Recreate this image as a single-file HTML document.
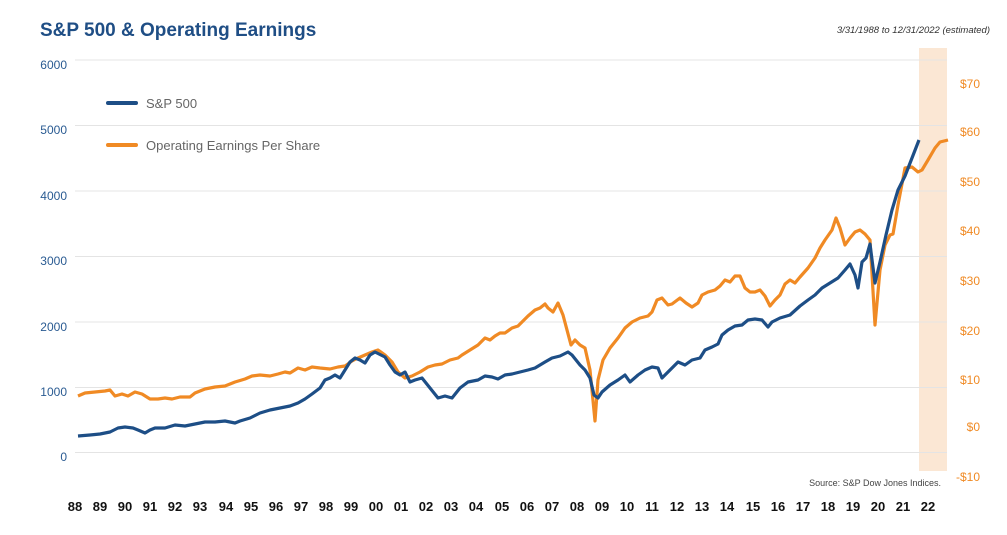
<!DOCTYPE html>
<html><head><meta charset="utf-8"><style>
html,body{margin:0;padding:0;background:#fff;}
svg{display:block;font-family:"Liberation Sans",sans-serif;}
</style></head><body>
<svg width="1007" height="535" viewBox="0 0 1007 535" xmlns="http://www.w3.org/2000/svg">
<rect width="1007" height="535" fill="#fff"/>
<text x="40" y="36" font-size="19" font-weight="bold" fill="#1f4e85">S&amp;P 500 &amp; Operating Earnings</text>
<text x="990" y="33" font-size="9.5" font-style="italic" fill="#333" text-anchor="end">3/31/1988 to 12/31/2022 (estimated)</text>
<rect x="919" y="48" width="28" height="423" fill="#fbe7d4"/>
<g stroke="#e4e4e4" stroke-width="1">
<line x1="75" y1="60" x2="947" y2="60"/><line x1="75" y1="125.5" x2="947" y2="125.5"/>
<line x1="75" y1="191" x2="947" y2="191"/><line x1="75" y1="256.5" x2="947" y2="256.5"/>
<line x1="75" y1="322" x2="947" y2="322"/><line x1="75" y1="387.5" x2="947" y2="387.5"/>
<line x1="75" y1="452.5" x2="947" y2="452.5"/>
</g>
<g font-size="12" fill="#2a5b92" text-anchor="end">
<text x="67" y="69">6000</text><text x="67" y="134">5000</text><text x="67" y="200">4000</text>
<text x="67" y="265">3000</text><text x="67" y="331">2000</text><text x="67" y="396">1000</text><text x="67" y="461">0</text>
</g>
<g font-size="12" fill="#f08a24" text-anchor="end">
<text x="980" y="88">$70</text><text x="980" y="136">$60</text><text x="980" y="186">$50</text>
<text x="980" y="235">$40</text><text x="980" y="285">$30</text><text x="980" y="335">$20</text>
<text x="980" y="384">$10</text><text x="980" y="431">$0</text><text x="980" y="481">-$10</text>
</g>
<text x="941" y="486" font-size="9" fill="#444" text-anchor="end">Source: S&amp;P Dow Jones Indices.</text>
<g font-size="13" font-weight="bold" fill="#111" text-anchor="middle">
<text x="75" y="511">88</text><text x="100" y="511">89</text><text x="125" y="511">90</text><text x="150" y="511">91</text><text x="175" y="511">92</text><text x="200" y="511">93</text><text x="226" y="511">94</text><text x="251" y="511">95</text><text x="276" y="511">96</text><text x="301" y="511">97</text><text x="326" y="511">98</text><text x="351" y="511">99</text><text x="376" y="511">00</text><text x="401" y="511">01</text><text x="426" y="511">02</text><text x="451" y="511">03</text><text x="476" y="511">04</text><text x="502" y="511">05</text><text x="527" y="511">06</text><text x="552" y="511">07</text><text x="577" y="511">08</text><text x="602" y="511">09</text><text x="627" y="511">10</text><text x="652" y="511">11</text><text x="677" y="511">12</text><text x="702" y="511">13</text><text x="727" y="511">14</text><text x="753" y="511">15</text><text x="778" y="511">16</text><text x="803" y="511">17</text><text x="828" y="511">18</text><text x="853" y="511">19</text><text x="878" y="511">20</text><text x="903" y="511">21</text><text x="928" y="511">22</text>
</g>
<line x1="108" y1="103" x2="136" y2="103" stroke="#1d4e86" stroke-width="4" stroke-linecap="round"/>
<text x="146" y="108" font-size="13" fill="#666">S&amp;P 500</text>
<line x1="108" y1="145" x2="136" y2="145" stroke="#f08a24" stroke-width="4" stroke-linecap="round"/>
<text x="146" y="150" font-size="13" fill="#666">Operating Earnings Per Share</text>
<polyline fill="none" stroke="#f08a24" stroke-width="3.2" stroke-linejoin="round" points="78,396 85,393 95,392 105,391 110,390 115,396 122,394 128,396 135,392 142,394 150,399 158,399 165,398 172,399 180,397 190,397 195,393 205,389 215,387 225,386 235,382 245,379 252,376 260,375 270,376 278,374 285,372 290,373 298,368 305,370 312,367 320,368 330,369 338,367 345,366 352,361 358,358 365,355 372,352 378,350 385,355 392,362 398,372 405,378 412,376 420,372 428,367 435,365 442,364 450,360 458,358 462,355 470,350 478,345 485,338 490,340 495,336 500,333 505,333 512,328 518,326 522,322 528,316 535,310 540,308 545,304 548,308 553,312 558,303 563,315 571,345 575,340 580,345 585,348 590,370 595,421 598,380 603,360 610,348 618,338 625,328 632,322 640,318 648,316 652,312 657,300 662,298 668,305 672,304 680,298 686,303 692,307 698,303 702,295 708,292 715,290 720,286 725,280 730,282 735,276 740,276 745,288 750,292 755,292 760,290 765,296 770,306 775,300 780,295 785,284 790,280 795,283 800,277 808,268 815,258 820,248 825,240 832,230 836,218 840,228 845,245 850,238 855,232 860,230 865,234 870,240 875,325 880,270 885,245 890,235 893,234 898,205 905,168 912,167 918,172 922,170 928,160 935,148 940,142 948,140"/>
<polyline fill="none" stroke="#1d4e86" stroke-width="3.2" stroke-linejoin="round" points="78,436 90,435 100,434 110,432 118,428 125,427 133,428 138,430 145,433 150,430 155,428 165,428 175,425 185,426 195,424 205,422 215,422 225,421 235,423 240,421 250,418 260,413 270,410 280,408 290,406 298,403 305,399 312,394 320,388 325,380 330,378 335,375 340,378 345,370 350,362 355,358 360,360 365,363 370,355 375,352 385,357 390,365 395,372 400,375 405,372 410,382 415,380 422,378 430,388 438,398 445,396 452,398 460,388 468,382 478,380 485,376 492,377 498,379 505,375 512,374 520,372 528,370 535,368 545,362 552,358 560,356 568,352 572,355 576,360 580,365 585,370 590,378 594,395 598,398 602,392 610,385 618,380 625,375 630,382 638,375 645,370 652,367 658,368 662,378 670,370 678,362 685,365 692,360 700,358 705,350 712,347 718,344 722,335 728,330 735,326 742,325 748,320 755,319 762,320 768,327 772,322 780,318 790,315 800,306 808,300 815,295 822,288 830,283 838,278 845,270 850,264 855,275 858,288 862,262 866,258 870,244 875,283 880,262 886,235 892,210 898,190 905,176 912,158 919,140"/>
</svg>
</body></html>
